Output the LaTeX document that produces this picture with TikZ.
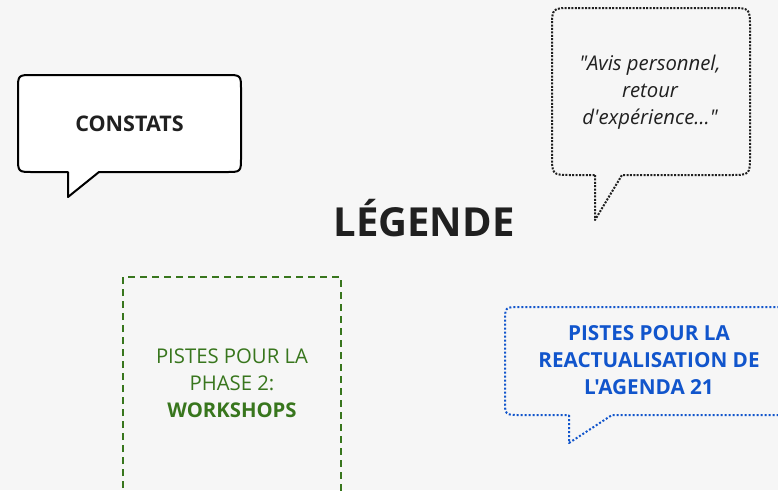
\documentclass[tikz,border=0pt]{standalone}
\usepackage{fontspec}
\setmainfont{Open Sans}[Ligatures=TeXOff]
\definecolor{bg}{HTML}{F6F6F6}
\definecolor{txt}{HTML}{202020}
\definecolor{grn}{HTML}{38761D}
\definecolor{blu}{HTML}{1155CC}
\begin{document}
\begin{tikzpicture}[x=1pt,y=-1pt,
  body/.style={font=\fontsize{20.3}{27}\selectfont, align=center, inner sep=0pt},
  solidbubble/.style={draw=black, fill=white, line width=2pt, line join=round},
  dotbubble/.style={draw=txt, line width=2pt, dash pattern=on 2pt off 1.4pt, line join=round},
  bluebubble/.style={draw=blu, line width=2pt, dash pattern=on 2pt off 2pt, line join=round},
  greenbox/.style={draw=grn, line width=2.2pt, dash pattern=on 7pt off 5pt}]
\fill[bg] (0,0) rectangle (778,490);
\useasboundingbox (0,0) rectangle (778,490);
\clip (0,0) rectangle (778,490);
% CONSTATS bubble
\path[solidbubble] (68,172) -- (68,197) -- (99,172) -- (226,172) .. controls (241,172) .. (241,157)
  -- (241,90) .. controls (241,75) .. (226,75) -- (33,75) .. controls (18,75) .. (18,90)
  -- (18,157) .. controls (18,172) .. (33,172) -- cycle;
\node[body, text=txt, font=\fontsize{21.5}{27}\selectfont\bfseries] (constats) at (129.5,124) {CONSTATS};
% Avis bubble
\path[dotbubble] (595,175) -- (595,220) -- (622,175) -- (730,175) .. controls (750,175) .. (750,155)
  -- (750,28) .. controls (750,8) .. (730,8) -- (572,8) .. controls (552,8) .. (552,28)
  -- (552,155) .. controls (552,175) .. (572,175) -- cycle;
\node[body, text=txt, font=\fontsize{20.3}{27}\selectfont\itshape] (avis) at (650,92) {"Avis personnel,\\retour\\d'expérience…"};
% Title
\node[text=txt, font=\fontsize{40}{44}\selectfont\bfseries, inner sep=0pt] (legende) at (424,218) {LÉGENDE};
% Green box
\path[greenbox] (123,500) -- (123,277) -- (341,277) -- (341,500);
\node[body, text=grn] (pistes2) at (232,383) {PISTES POUR LA\\PHASE 2:\\\textbf{WORKSHOPS}};
% Blue bubble
\path[bluebubble] (569,415) -- (569,443) -- (612,415) -- (800,415) -- (800,307)
  -- (520,307) .. controls (505,307) .. (505,322)
  -- (505,400) .. controls (505,415) .. (520,415) -- cycle;
\node[body, text=blu, font=\fontsize{20.7}{27}\selectfont\bfseries] (agenda) at (649,360) {PISTES POUR LA\\REACTUALISATION DE\\L'AGENDA 21};
\end{tikzpicture}
\end{document}
